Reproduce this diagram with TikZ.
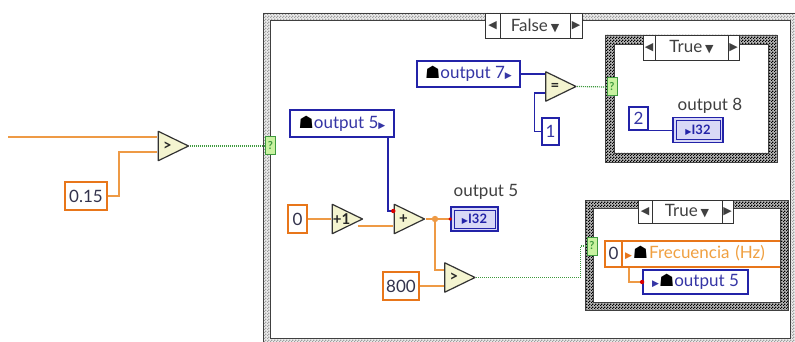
\documentclass[tikz,border=0pt]{standalone}
\usepackage{fontspec}
\setmainfont{Lato}
\newfontfamily\sym{DejaVu Sans}
\usetikzlibrary{calc,patterns.meta}
\definecolor{lvorange}{HTML}{E8761A}
\definecolor{wireor}{HTML}{EE9A45}
\definecolor{lvblue}{HTML}{2323A8}
\definecolor{txblue}{HTML}{3535A5}
\definecolor{lvgreen}{HTML}{3F9A3F}
\definecolor{selfill}{HTML}{C9F2A0}
\definecolor{cmpfill}{HTML}{F4F4D0}
\definecolor{indfill}{HTML}{D8D8F6}
\definecolor{txdark}{HTML}{33334D}
\definecolor{freqtx}{HTML}{F0A040}
\tikzdeclarepattern{
  name=finecheck,
  type=uncolored,
  bounding box={(0,0) and (3pt,3pt)},
  tile size={(3pt,3pt)},
  code={\pgfpathrectangle{\pgfpointorigin}{\pgfqpoint{1.5pt}{1.5pt}}%
        \pgfpathrectangle{\pgfqpoint{1.5pt}{1.5pt}}{\pgfqpoint{1.5pt}{1.5pt}}%
        \pgfusepath{fill}}
}
\newcommand\smb[2]{{\sym\fontsize{#1}{#1}\selectfont #2}}
\newcommand\hse{\textcolor{black}{\smb{17}{☗}}}
\newcommand\tri{\smb{9}{▶}}
\newcommand\lvframe[7]{%
  \fill[#6,even odd rule] (#1,#2) rectangle (#3,#4) (#1+#5,#2+#5) rectangle (#3-#5,#4-#5);
  \fill[pattern=finecheck,pattern color=#7,even odd rule] (#1,#2) rectangle (#3,#4) (#1+#5,#2+#5) rectangle (#3-#5,#4-#5);
  \draw[black!75,line width=0.7pt] (#1,#2) rectangle (#3,#4) (#1+#5,#2+#5) rectangle (#3-#5,#4-#5);
}
\tikzset{
  every node/.style={font=\fontsize{17}{20}\selectfont},
  dblconst/.style={draw=lvorange, line width=2pt, fill=white, inner sep=0pt, text=txdark},
  intconst/.style={draw=lvblue, line width=1.8pt, fill=white, inner sep=0pt, text=txblue},
  localdbl/.style={draw=lvorange, line width=2pt, fill=white, inner sep=0pt},
  cmp/.style={inner sep=0pt, minimum width=32pt, minimum height=31pt, text=black!85,
    font=\bfseries\fontsize{15}{15}\selectfont,
    execute at begin node={\hspace*{-12pt}},
    path picture={\draw[black!80, fill=cmpfill, line width=1.2pt, line join=round]
      ([shift={(0.8pt,-0.8pt)}]path picture bounding box.north west) --
      ([shift={(-1pt,0pt)}]path picture bounding box.east) --
      ([shift={(0.8pt,0.8pt)}]path picture bounding box.south west) -- cycle;}},
  selbox/.style={draw=lvgreen, fill=selfill, line width=1pt, inner sep=0pt,
    minimum width=10pt, minimum height=18pt, text=lvgreen, font=\bfseries\fontsize{11}{11}\selectfont},
  indbox/.style={draw=lvblue, fill=indfill, line width=1.5pt, inner sep=0pt, text=lvblue,
    font=\bfseries\fontsize{13}{13}\selectfont,
    path picture={\draw[lvblue,line width=0.8pt]
      ([shift={(3pt,3pt)}]path picture bounding box.south west) rectangle
      ([shift={(-3pt,-3pt)}]path picture bounding box.north east);}},
  lcell/.style={draw=black!80, fill=white, line width=0.8pt, inner sep=0pt, text=black!75},
  lbl/.style={inner sep=0pt, text=black!75},
  owire/.style={wireor, line width=1.8pt},
  iwire/.style={lvblue, line width=1.2pt},
  bwire/.style={lvgreen, line width=1.2pt, dash pattern=on 1pt off 1pt},
  coerce/.style={fill=red!85!black},
}
\begin{document}
\begin{tikzpicture}[x=1pt,y=-1pt]
\useasboundingbox (0,0) rectangle (795,342);
\fill[white] (0,0) rectangle (795,342);

% local variable that reaches into the bottom-right frame
\node[localdbl, minimum width=164pt, minimum height=26pt, text width=158pt, align=left, inner xsep=3pt]
  (lfreq) at (704,253.5) {\textcolor{lvorange}{\tri}\hspace{1pt}\hse\hspace{1pt}\textcolor{freqtx}{Frecuencia (Hz)}};

% case structures
\lvframe{263}{13}{797}{345}{7}{gray!15}{gray!75}
\lvframe{605}{35}{777}{162}{9}{gray!55}{black}
\lvframe{585}{200}{788}{310}{8}{gray!55}{black}

% left part
\coordinate (in0) at (8,137);
\node[cmp] (gt1) at (173.5,146) {>};
\node[dblconst, minimum width=42pt, minimum height=28pt] (c015) at (86,196) {0.15};
\node[selbox] (sel0) at (270.5,146) {?};

% outer case selector label
\node[lcell, minimum width=15pt, minimum height=25pt] (fl) at (492.5,25.5) {\smb{11}{◀}};
\node[lcell, minimum width=70pt, minimum height=25pt] (fm) at (535,25.5) {False\,\smb{11}{▼}};
\node[lcell, minimum width=12pt, minimum height=25pt] (fr) at (576,25.5) {\smb{11}{▶}};

% output 7 comparison
\node[intconst, minimum width=103pt, minimum height=26pt] (lo7) at (468.5,74) {\hse output 7\tri};
\node[cmp] (eq) at (561,86.5) {=};
\node[intconst, minimum width=17pt, minimum height=27pt] (c1) at (550.5,131.5) {1};
\node[selbox] (sel1) at (612,87) {?};

% top-right case
\node[lcell, minimum width=12pt, minimum height=25pt] (tl) at (649,47.5) {\smb{11}{◀}};
\node[lcell, minimum width=73pt, minimum height=25pt] (tm) at (691.5,47.5) {True\,\smb{11}{▼}};
\node[lcell, minimum width=11pt, minimum height=25pt] (tr) at (733.5,47.5) {\smb{11}{▶}};
\node[intconst, minimum width=19pt, minimum height=23pt] (c2) at (638.5,118.5) {2};
\node[indbox, minimum width=50pt, minimum height=25pt] (ind8) at (698,130) {\smb{8}{▶}I32};
\node[lbl] (lab8) at (710,106) {output 8};

% middle
\node[intconst, minimum width=104pt, minimum height=27pt] (lo5) at (342,123.5) {\hse output 5\tri};
\node[dblconst, minimum width=19pt, minimum height=28pt] (c0) at (297.5,219) {0};
\node[cmp] (inc) at (347.5,219) {+1};
\node[cmp] (add) at (409.5,219) {+};
\coordinate (j) at (435,219);
\node[indbox, minimum width=47pt, minimum height=24pt] (ind5) at (474.5,219) {\smb{8}{▶}I32};
\node[lbl] (lab5) at (486,192) {output 5};
\node[cmp] (gt2) at (460,277.5) {>};
\node[dblconst, minimum width=36pt, minimum height=28pt] (c800) at (401,286) {800};
\node[selbox] (sel2) at (592,246) {?};

% bottom-right case
\node[lcell, minimum width=14pt, minimum height=23pt] (bl) at (645,211.5) {\smb{11}{◀}};
\node[lcell, minimum width=70pt, minimum height=23pt] (bm) at (687,211.5) {True\,\smb{11}{▼}};
\node[lcell, minimum width=11pt, minimum height=23pt] (br) at (727.5,211.5) {\smb{11}{▶}};
\node[dblconst, minimum width=17pt, minimum height=26pt] (c0b) at (613.5,253.5) {0};
\node[intconst, minimum width=105pt, minimum height=24pt] (lo5b) at (695.5,282) {\tri\hse output 5};

% wires
\draw[owire] (in0) -- (in0 -| gt1.west);
\draw[owire] (c015.east) -- ++(11,0) |- ($(gt1.west)+(0,6)$);
\draw[bwire] (gt1.east) -- (sel0.west);

\draw[iwire] (lo7.east) -- (lo7.east -| eq.west);
\draw[iwire] (c1.west) -- ++(-7,0) |- ($(eq.west)+(0,6.5)$);
\draw[bwire] (eq.east) -- (sel1.west);
\draw[iwire] (c2.south east) -- (c2.south east -| ind8.west);

\draw[iwire] ($(lo5.south east)+(-7,0)$) |- ($(add.west)+(0,-8)$);
\fill[coerce] ($(add.west)+(0,-8)$) circle (2.2pt);
\draw[owire] (c0.east) -- (inc.west);
\draw[owire] ($(inc.east)+(-6,7)$) -- ($(add.west)+(0,7)$);
\draw[owire] (add.east) -- (j) -- (ind5.west);
\fill[coerce] (ind5.west) circle (1.8pt);
\fill[wireor] (j) circle (3.2pt);
\draw[owire] (j) |- ($(gt2.west)+(0,-7.5)$);
\draw[owire] (c800.east) -- (c800.east -| gt2.west);
\draw[bwire] (gt2.east) -- ++(104,0) |- (sel2.west);

\draw[owire] ($(c0b.south east)+(6,0)$) |- (lo5b.west);
\fill[coerce] (lo5b.west) circle (2.2pt);
\end{tikzpicture}
\end{document}
